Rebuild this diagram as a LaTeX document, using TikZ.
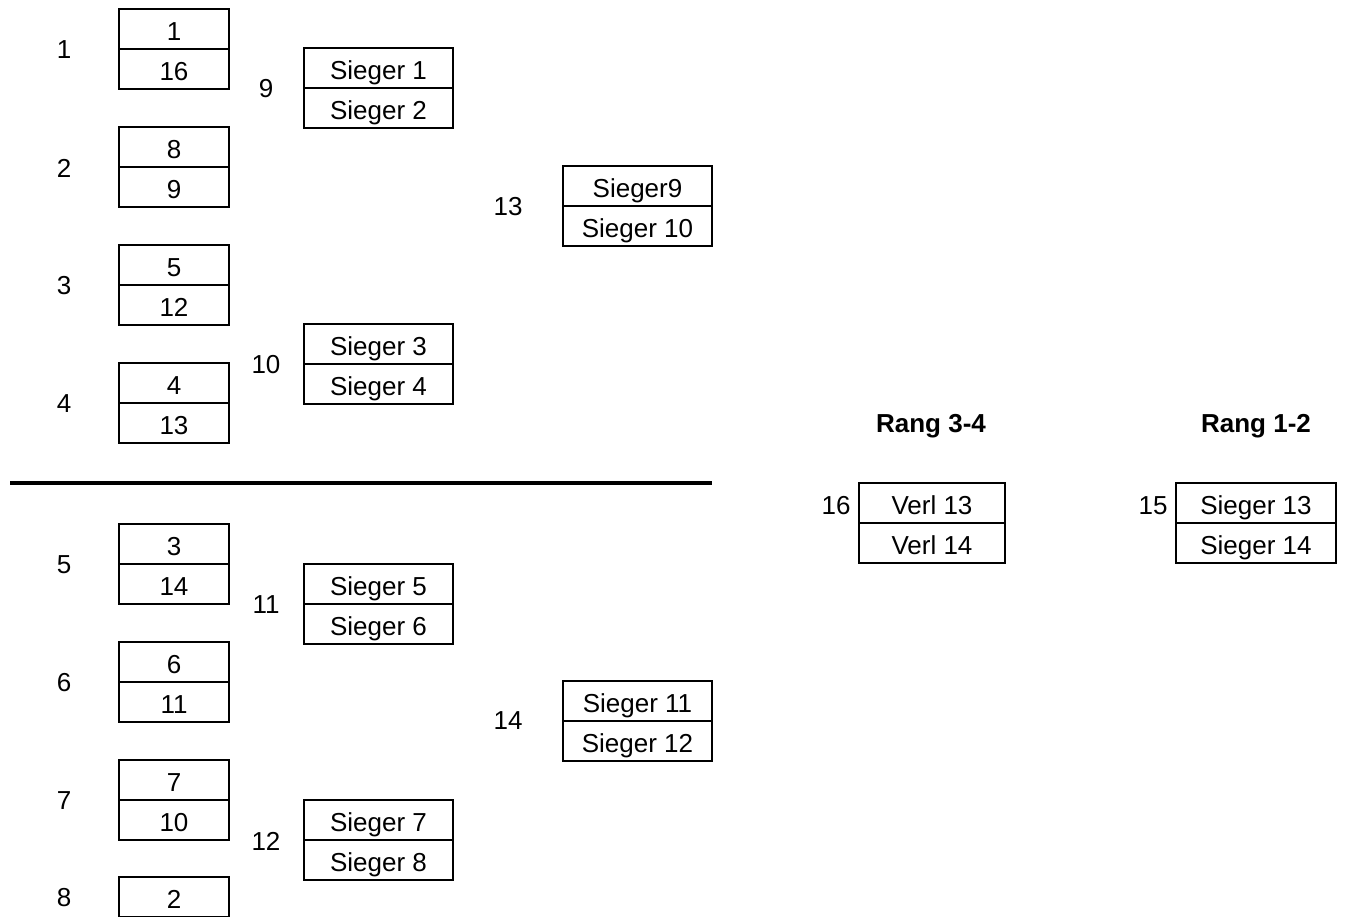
\documentclass[tikz,border=0pt]{standalone}
\usepackage{fontspec}
\setmainfont{Liberation Sans}
\begin{document}
\begin{tikzpicture}[x=0.75pt,y=-0.75pt,
  cell/.style={draw, line width=1.45pt, inner sep=0pt, minimum height=30pt, text height=16.6pt, text depth=0pt, font=\fontsize{19.5}{21}\selectfont},
  lcell/.style={cell, minimum width=82.5pt},
  mcell/.style={cell, minimum width=111.75pt},
  vcell/.style={cell, minimum width=109.5pt},
  scell/.style={cell, minimum width=120pt},
  lbl/.style={inner sep=0pt, font=\fontsize{19.5}{21}\selectfont},
  head/.style={inner sep=0pt, font=\fontsize{19.5}{21}\selectfont\bfseries}]
\useasboundingbox (0,0) rectangle (1346,917);
% left column (round 1)
\foreach \i/\t/\a/\b in {1/9/1/16, 2/127/8/9, 3/245/5/12, 4/363/4/13, 5/524/3/14, 6/642/6/11, 7/760/7/10}{
  \node[lcell] (r\i a) at (174,\t+20) {\a};
  \node[lcell] (r\i b) at (174,\t+60) {\b};
  \node[lbl] (n\i) at (64,\t+41) {\i};
}
\node[lcell] (r8a) at (174,897) {2};
\node[lbl] (n8) at (64,898) {8};
% middle column (round 2)
\foreach \i/\t/\a/\b in {9/48/1/2, 10/324/3/4, 11/564/5/6, 12/800/7/8}{
  \node[mcell] (r\i a) at (378.5,\t+20) {Sieger \a};
  \node[mcell] (r\i b) at (378.5,\t+60) {Sieger \b};
  \node[lbl] (n\i) at (266,\t+41) {\i};
}
% third column (semi-finals)
\node[mcell] (r13a) at (637.5,186) {Sieger9};
\node[mcell] (r13b) at (637.5,226) {Sieger 10};
\node[lbl] (n13) at (508,207) {13};
\node[mcell] (r14a) at (637.5,701) {Sieger 11};
\node[mcell] (r14b) at (637.5,741) {Sieger 12};
\node[lbl] (n14) at (508,721) {14};
% separator
\coordinate (sepL) at (10,483);
\coordinate (sepR) at (712,483);
\draw[line width=2.6pt] (sepL) -- (sepR);
% finals
\node[head] (h34) at (931,426) {Rang 3-4};
\node[vcell] (r16a) at (932,503) {Verl 13};
\node[vcell] (r16b) at (932,543) {Verl 14};
\node[lbl] (n16) at (836,506) {16};
\node[head] (h12) at (1256,426) {Rang 1-2};
\node[scell] (r15a) at (1256,503) {Sieger 13};
\node[scell] (r15b) at (1256,543) {Sieger 14};
\node[lbl] (n15) at (1153,506) {15};
\end{tikzpicture}
\end{document}
